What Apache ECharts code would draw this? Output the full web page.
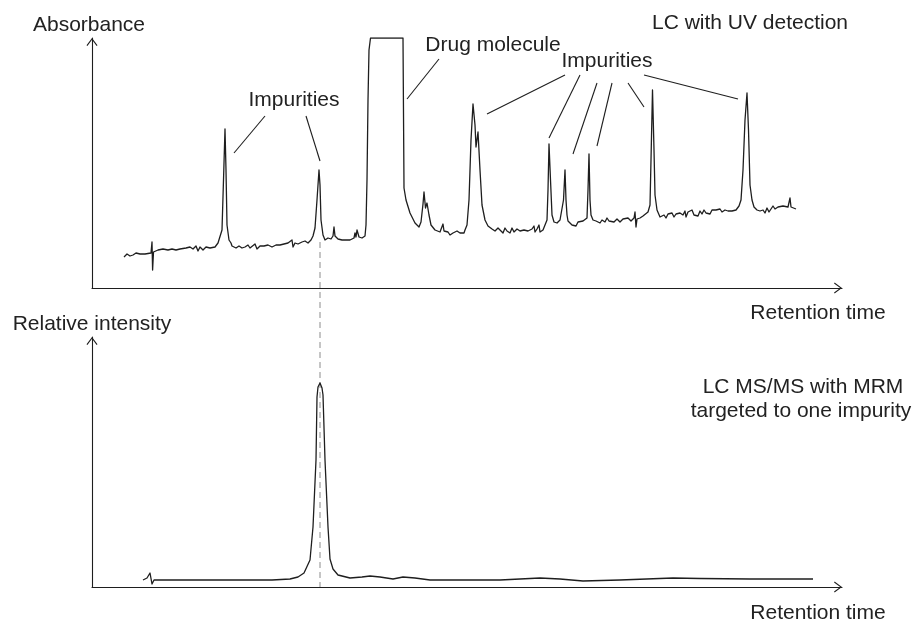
<!DOCTYPE html>
<html>
<head>
<meta charset="utf-8">
<script src="https://cdn.jsdelivr.net/npm/echarts@6/dist/echarts.min.js"></script>
<style>
  html, body { margin: 0; padding: 0; background: #fff; }
  #chart { width: 915px; height: 619px; }
</style>
</head>
<body>
<div id="chart"></div>
<script>
// ---- Data (retention time in min, signal in arbitrary units) ----
// LC-UV chromatogram (top)
const uvTrace = [
  [1.6,15.5],[1.75,17],[1.9,16],[2.05,16.5],[2.2,17.5],[2.4,17],[2.65,17],[2.95,17.5],[3.0,23],[3.03,9],[3.075,18],
  [3.3,19],[3.55,19.5],[3.8,19],[4.0,19.5],[4.2,19],[4.4,19.5],[4.7,20],[4.9,20.5],[5.05,19.5],[5.2,21],[5.3,18.5],
  [5.4,20.5],[5.55,19],[5.7,20.5],[5.9,20],[6.15,20.5],[6.3,22.5],[6.4,23],[6.5,29],[6.575,54],[6.65,79.5],[6.7,59],
  [6.75,31.5],[6.85,24],[6.95,22.5],[7.0,21],[7.1,21.5],[7.2,20],[7.35,21],[7.5,20],[7.65,20.5],[7.8,21.5],[7.9,20],
  [8.0,21],[8.15,22],[8.25,19.5],[8.4,21],[8.6,21],[8.8,21.5],[9.0,20.5],[9.2,21.5],[9.4,21.5],[9.6,22],[9.8,22.5],
  [9.9,21.5],[10.0,24],[10.05,20.5],[10.15,22.5],[10.3,22],[10.5,23],[10.65,23.5],[10.8,22.5],[10.95,24],[11.05,26],
  [11.15,30],[11.25,44],[11.35,59],[11.4,51.5],[11.45,34],[11.55,26.5],[11.65,24],[11.8,25],[11.95,24.5],[12.05,26],
  [12.1,30.5],[12.15,26],[12.3,24.5],[12.5,24],[12.7,24],[12.9,24],[13.1,25],[13.15,27.5],[13.2,25.5],[13.25,29],
  [13.3,30],[13.35,25.5],[13.5,25],[13.65,26],[13.7,31.5],[13.75,54],[13.8,94],[13.85,119],[13.925,125],
  [15.55,125],[15.6,50],[15.7,44],[15.9,37.5],[16.15,32.5],[16.35,30.5],[16.45,33],[16.55,42],[16.6,48],[16.675,40],
  [16.75,42.5],[16.85,36.5],[16.95,31.5],[17.15,29],[17.4,28],[17.5,28.5],[17.55,32],[17.6,28.5],[17.7,27.5],
  [17.8,28],[17.9,26.5],[17.95,25.5],[18.05,27.5],[18.15,27],[18.25,28.5],[18.4,27.5],[18.5,28.5],[18.6,27.5],
  [18.65,29],[18.75,31.5],[18.85,44],[18.95,74],[19.05,92],[19.15,81.5],[19.2,70.5],[19.3,78],[19.4,59],[19.5,41.5],
  [19.65,34],[19.8,31],[20.0,29.5],[20.15,28.5],[20.3,30],[20.4,29],[20.55,27.5],[20.65,30],[20.75,28.5],[20.9,27.5],
  [21.0,30],[21.1,28],[21.25,29.5],[21.4,28.5],[21.6,29],[21.8,28.5],[22.0,29.5],[22.1,31],[22.15,28],[22.25,29.5],
  [22.35,31.5],[22.4,28],[22.55,29],[22.65,28.5],[22.75,34],[22.8,49],[22.85,72],[22.925,54],[23.0,36.5],[23.1,33],
  [23.25,32.5],[23.4,34],[23.5,35],[23.575,44],[23.65,59],[23.7,44],[23.75,36.5],[23.8,33.5],[23.9,33],[24.0,31.5],
  [24.1,32.5],[24.2,31],[24.3,33],[24.4,32],[24.55,33.5],[24.65,33],[24.75,35],[24.8,49],[24.85,67],[24.9,44],
  [24.95,36.5],[25.05,34],[25.2,33.5],[25.3,34.5],[25.4,32.5],[25.5,34],[25.65,33],[25.75,35],[25.85,33.5],
  [25.95,34.5],[26.1,33],[26.25,34.5],[26.4,33],[26.55,34.5],[26.65,33.5],[26.8,35],[26.95,33.5],[27.1,35],
  [27.15,38],[27.2,30.5],[27.25,34.5],[27.4,35],[27.55,36],[27.65,36.5],[27.8,38],[27.9,41.5],[27.95,64],[28.025,99],
  [28.1,69],[28.15,46.5],[28.25,39],[28.4,35.5],[28.5,34.5],[28.6,36.5],[28.7,35],[28.8,37],[28.9,36],[29.0,37.5],
  [29.1,35.5],[29.2,37],[29.3,36],[29.4,37.5],[29.55,36.5],[29.65,38.5],[29.7,35.5],[29.8,38],[29.9,37],[30.0,39],
  [30.1,36.5],[30.2,37.5],[30.3,36],[30.4,38.5],[30.5,37],[30.6,39],[30.7,37.5],[30.8,38],[30.9,37],[31.0,39],
  [31.1,38],[31.2,39],[31.3,38],[31.4,39.5],[31.5,38],[31.65,39],[31.8,38.5],[31.9,39.5],[32.0,38.5],[32.2,39],
  [32.35,41],[32.45,44],[32.55,59],[32.65,84],[32.75,97.5],[32.825,79],[32.9,51.5],[33.0,44],[33.1,40.5],[33.25,39],
  [33.4,38.5],[33.55,39],[33.65,37.5],[33.75,40],[33.85,38],[33.95,39],[34.05,41],[34.15,39.5],[34.3,40.5],[34.4,40],
  [34.55,41],[34.65,40],[34.8,40.5],[34.85,40.5],[34.9,45],[34.95,40.5],[35.05,40.5],[35.2,39.5]
];

// LC-MS/MS MRM trace (bottom)
const msTrace = [
  [2.55,3.5],[2.75,4.5],[2.9,7],[3.0,1.5],[3.1,3.5],[3.3,3.5],[6.0,3.5],[9.0,3.5],[9.9,4],[10.3,5],[10.6,7],
  [10.9,13.5],[11.05,30],[11.2,63.5],[11.25,95],[11.3,100],[11.4,102],[11.5,99.5],[11.55,96],[11.65,63.5],
  [11.8,30],[11.9,14],[12.05,9],[12.3,6],[12.9,4.5],[13.5,5],[13.9,5.5],[14.4,5],[15.05,4],[15.55,5],[16.15,4.5],
  [16.9,3.5],[18.4,3.5],[20.4,3.5],[22.4,4.5],[23.4,4],[24.55,3],[26.4,3.5],[29.05,4.5],[30.4,4.25],[32.9,4],[36.05,4]
];

// Retention time of the targeted impurity (dashed guide through both panels)
const targetTime = 11.4;
const guideSpan = [23, -149.5];   // from just under the UV peak down to the MS baseline (top-panel units)

// Leader lines for annotations: [labelEnd, peakEnd] in top-panel data units
const leaderLines = [
  [[8.65,86],[7.1,67.5]], [[10.7,86],[11.4,63.5]],
  [[17.35,114.5],[15.75,94.5]],
  [[23.65,106.5],[19.75,87]], [[24.4,106.5],[22.85,75]], [[25.25,102.5],[24.05,67]],
  [[26.0,102.5],[25.25,71]], [[26.8,102.5],[27.6,90.5]], [[27.6,106.5],[32.3,94.5]]
];

// Text labels
const texts = ['Absorbance','LC with UV detection','Impurities','Drug molecule','Impurities','Retention time',
               'Relative intensity','LC MS/MS with MRM','targeted to one impurity','Retention time'];

// ---- Layout ----
const textPos = [[89,25],[750,23],[294,100],[493,45],[607,61],[818,313],[92,324],[803,387],[801,411],[818,613]];
const FONT = '"Liberation Sans", Arial, Helvetica, sans-serif';
const INK = '#1e1e1e';
const chevron = 'path://M0,0L6,8L5,8.7L0,2L-5,8.7L-6,8Z';

const axisLine = {
  show: true,
  symbol: ['none', chevron],
  symbolSize: [11, 8],
  symbolOffset: [0, -4],
  lineStyle: { color: INK, width: 1.1 }
};
function xAx(gi) {
  return { type: 'value', gridIndex: gi, min: 0, max: 37.5, axisLine: axisLine,
           axisTick: { show: false }, axisLabel: { show: false }, splitLine: { show: false } };
}
function yAx(gi) {
  return { type: 'value', gridIndex: gi, min: 0, max: 125, axisLine: axisLine,
           axisTick: { show: false }, axisLabel: { show: false }, splitLine: { show: false } };
}

const chart = echarts.init(document.getElementById('chart'), null, { renderer: 'canvas' });
chart.setOption({
  animation: false,
  backgroundColor: '#ffffff',
  grid: [
    { left: 92, top: 38, width: 750, height: 250 },
    { left: 92, top: 337, width: 750, height: 250 }
  ],
  xAxis: [xAx(0), xAx(1)],
  yAxis: [yAx(0), yAx(1)],
  series: [
    {
      type: 'line', xAxisIndex: 0, yAxisIndex: 0, z: 1, clip: false,
      data: guideSpan.map(v => [targetTime, v]),
      showSymbol: false, silent: true,
      lineStyle: { color: '#8c8c8c', width: 1, type: [6, 4] }
    },
    {
      type: 'line', xAxisIndex: 0, yAxisIndex: 0, z: 3,
      data: uvTrace, showSymbol: false, silent: true,
      lineStyle: { color: INK, width: 1.3, join: 'round' },
      markLine: {
        silent: true, symbol: ['none', 'none'], animation: false,
        label: { show: false },
        lineStyle: { color: INK, width: 1.1, type: 'solid' },
        emphasis: { disabled: true },
        data: leaderLines.map(l => [{ coord: l[0] }, { coord: l[1] }])
      }
    },
    {
      type: 'line', xAxisIndex: 1, yAxisIndex: 1, z: 3,
      data: msTrace, showSymbol: false, silent: true,
      lineStyle: { color: INK, width: 1.3, join: 'round' }
    }
  ],
  graphic: texts.map((t, i) => ({
    type: 'text', x: textPos[i][0], y: textPos[i][1], silent: true,
    style: { text: t, font: '21px ' + FONT, fill: '#222', align: 'center', verticalAlign: 'middle' }
  }))
});
</script>
</body>
</html>
